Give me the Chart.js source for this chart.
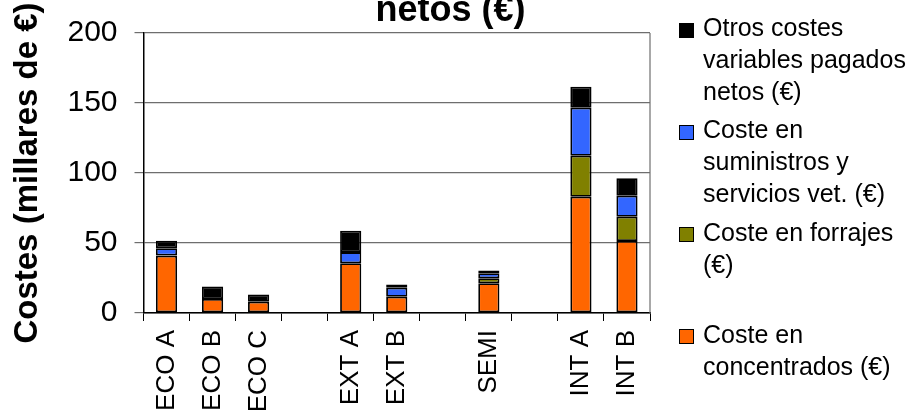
<!DOCTYPE html>
<html>
<head>
<meta charset="utf-8">
<script src="https://cdn.jsdelivr.net/npm/chart.js@4.4.1/dist/chart.umd.min.js"></script>
<style>
  html, body { margin: 0; padding: 0; background: #fff; overflow: hidden; width: 911px; height: 412px; }
  #wrap { position: absolute; left: 0; top: -40px; width: 911px; height: 492px; }
  #legend { position: absolute; left: 0; top: 0; font-family: 'Liberation Sans', Arial, sans-serif; font-size: 25px; line-height: 32px; color: #000; }
  .lg-item { position: absolute; left: 679px; width: 232px; }
  .lg-box { position: absolute; left: 0; width: 13px; height: 13px; border: 1.5px solid #000; }
  .lg-text { position: absolute; left: 24px; white-space: nowrap; }
</style>
</head>
<body>
<div id="wrap"><canvas id="chart"></canvas></div>
<div id="legend"></div>
<script>
  // Data (thousands of euros)
  const categories = ['ECO A', 'ECO B', 'ECO C', '', 'EXT A', 'EXT B', '', 'SEMI', '', 'INT A', 'INT B'];
  const concentrados = [41, 10, 8, null, 35.5, 11.6, null, 21.2, null, 83, 51.4];
  const forrajes     = [0, 0, 0, null, 0, 0, null, 3.6, null, 29.3, 17.4];
  const suministros  = [5.2, 0, 0, null, 8, 6.4, null, 3.6, null, 34.3, 15];
  const otros        = [5.4, 9, 5.3, null, 15.2, 2.4, null, 1.9, null, 15, 12.4];

  const seriesLabels = [
    ['Coste en', 'concentrados (€)'],
    ['Coste en forrajes', '(€)'],
    ['Coste en', 'suministros y', 'servicios vet. (€)'],
    ['Otros costes', 'variables pagados', 'netos (€)']
  ];
  const seriesColors = ['#ff6600', '#808000', '#3366ff', '#000000'];
  const yTicks = [0, 50, 100, 150, 200];

  const FONT = "'Liberation Sans', Arial, sans-serif";
  const GRID = '#6e6e6e';

  // right edge of the plot frame
  const plotBorder = {
    id: 'plotBorder',
    beforeDatasetsDraw(chart) {
      const { ctx, chartArea } = chart;
      ctx.save();
      ctx.strokeStyle = GRID;
      ctx.lineWidth = 1.2;
      ctx.beginPath();
      ctx.moveTo(chartArea.right, chartArea.top);
      ctx.lineTo(chartArea.right, chartArea.bottom);
      ctx.stroke();
      ctx.restore();
    }
  };

  const seriesData = [concentrados, forrajes, suministros, otros];
  const datasets = seriesData.map((d, i) => ({
    label: seriesLabels[i].join(' '),
    data: d,
    backgroundColor: seriesColors[i],
    borderColor: '#000',
    borderWidth: 1.8,
    borderSkipped: false,
    barPercentage: 0.46,
    categoryPercentage: 1
  }));

  const chart = new Chart(document.getElementById('chart'), {
    type: 'bar',
    data: { labels: categories, datasets: datasets },
    plugins: [plotBorder],
    options: {
      responsive: true,
      maintainAspectRatio: false,
      animation: false,
      layout: { padding: { left: 0, right: 10, top: 0, bottom: 0 } },
      plugins: {
        legend: { display: false },
        tooltip: { enabled: false },
        title: {
          display: true,
          text: 'netos (€)',
          color: '#000',
          font: { family: FONT, size: 36, weight: 'bold', lineHeight: 1.2 },
          padding: { top: 29, bottom: 0.8 }
        }
      },
      scales: {
        x: {
          stacked: true,
          afterFit: s => { s.height = 139; },
          grid: { offset: true, drawOnChartArea: false, drawTicks: true, tickLength: 8, color: '#000', lineWidth: 1 },
          border: { color: '#000', width: 1.5 },
          ticks: { color: '#000', font: { family: FONT, size: 26 }, minRotation: 90, maxRotation: 90, autoSkip: false, padding: 9 }
        },
        y: {
          stacked: true,
          min: 0,
          max: 200,
          afterFit: s => { s.width = 143.5; },
          afterBuildTicks: s => { s.ticks = yTicks.map(v => ({ value: v })); },
          grid: { color: GRID, lineWidth: 1.2, drawTicks: true, tickLength: 9 },
          border: { color: '#000', width: 1.5 },
          ticks: { color: '#000', font: { family: FONT, size: 30 }, padding: 17 },
          title: {
            display: true,
            text: 'Costes (millares de €)',
            color: '#000',
            font: { family: FONT, size: 33, weight: 'bold', lineHeight: 1.2 },
            padding: { top: 8, bottom: 0 }
          }
        },
        // empty right axis that reserves the legend column
        yR: {
          position: 'right',
          display: true,
          afterFit: s => { s.width = 251; },
          grid: { display: false, drawTicks: false },
          border: { display: false },
          ticks: { display: false }
        }
      }
    }
  });

  // legend on the right, top entry = top of the stack
  const legend = document.getElementById('legend');
  chart.data.datasets.slice().reverse().forEach((ds, k) => {
    const idx = chart.data.datasets.length - 1 - k;
    const item = document.createElement('div');
    item.className = 'lg-item';
    item.style.top = (11 + k * 102.3) + 'px';
    const box = document.createElement('div');
    box.className = 'lg-box';
    box.style.top = '11.5px';
    box.style.background = ds.backgroundColor;
    const text = document.createElement('div');
    text.className = 'lg-text';
    text.style.top = '0px';
    text.innerHTML = seriesLabels[idx].join('<br>');
    item.appendChild(box);
    item.appendChild(text);
    legend.appendChild(item);
  });
</script>
</body>
</html>
